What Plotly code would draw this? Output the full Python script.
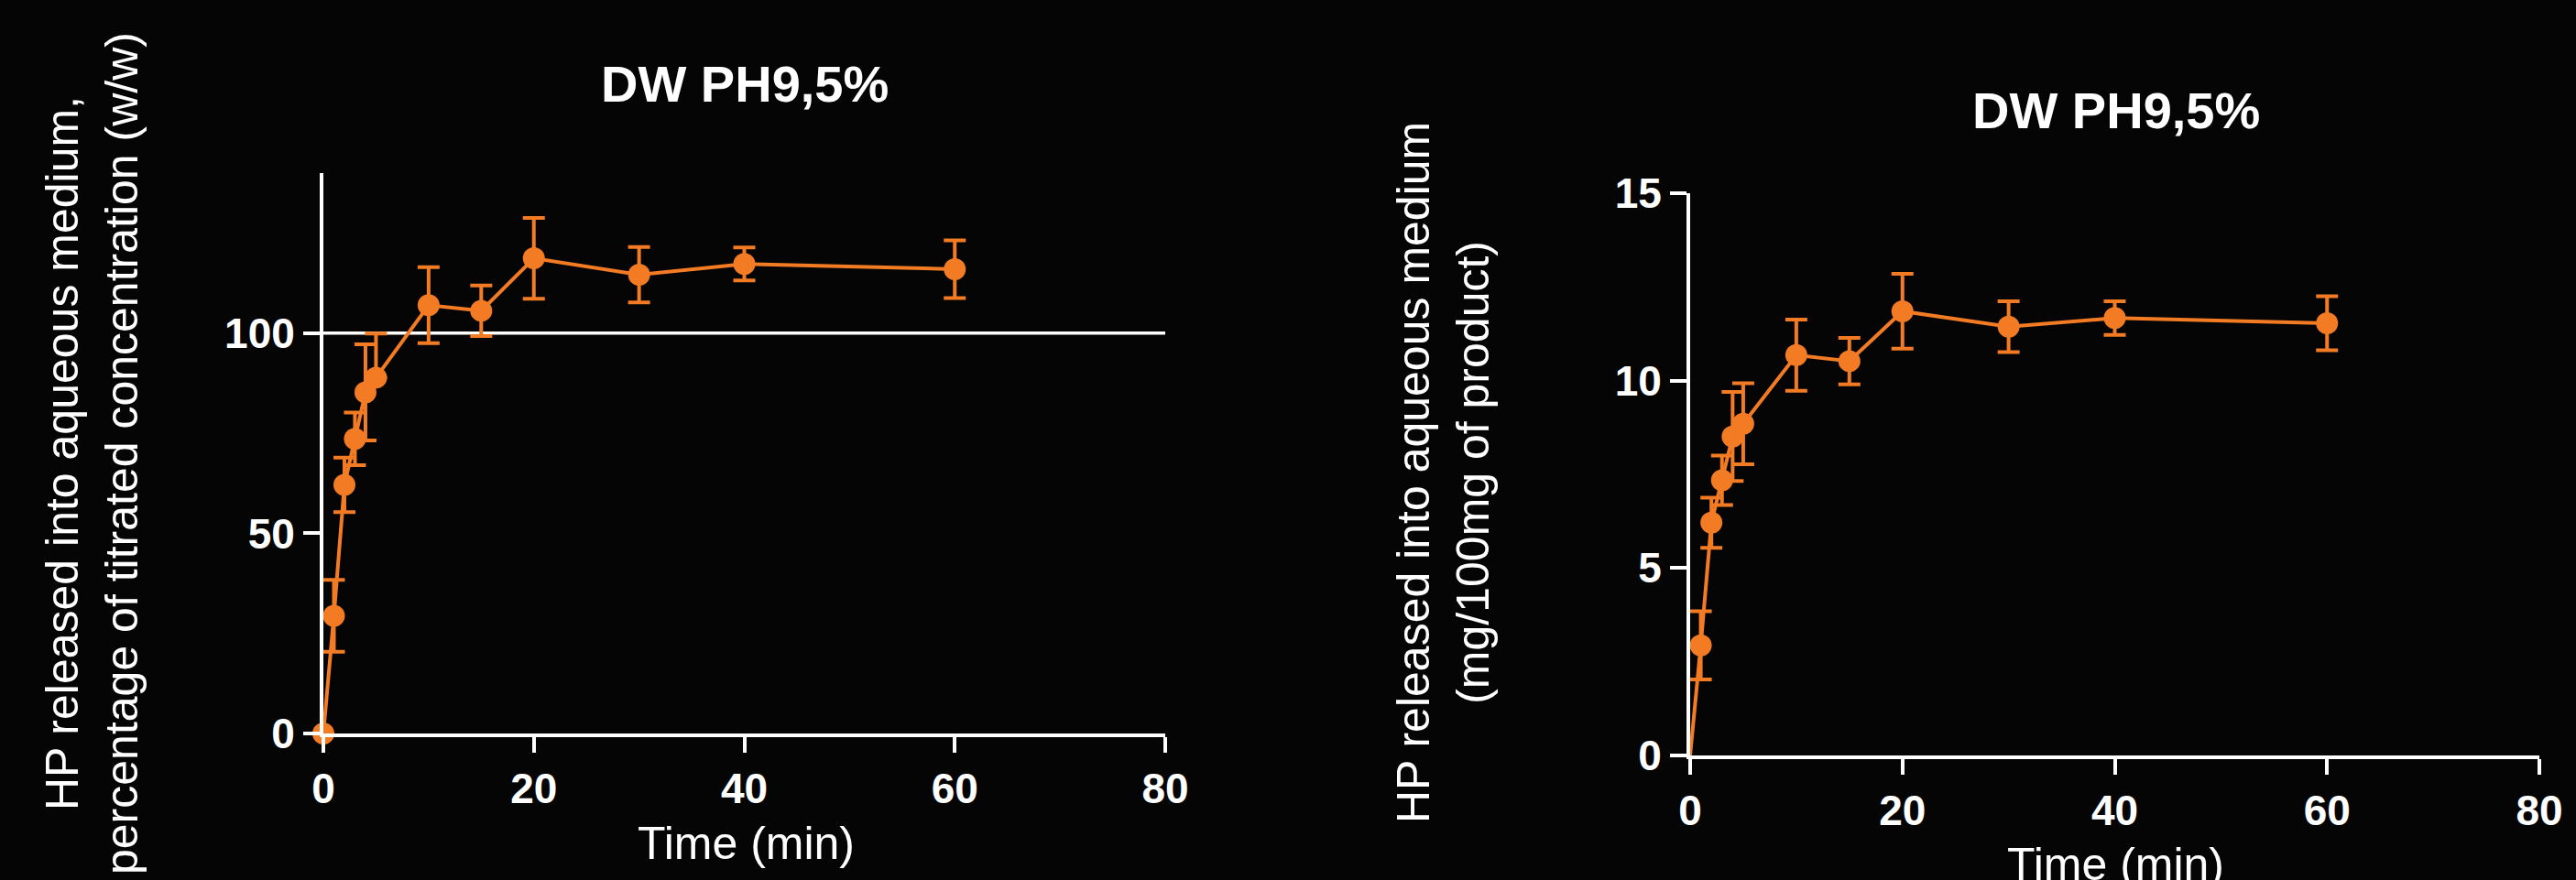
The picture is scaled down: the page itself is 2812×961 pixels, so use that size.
import plotly.graph_objects as go

# Sampling times (min)
time_min = [0, 1, 2, 3, 4, 5, 10, 15, 20, 30, 40, 60]

# Release as percentage of titrated concentration (w/w)
pct_mean = [0, 29.4, 62.1, 73.6, 85.2, 88.9, 107.0, 105.6, 118.7, 114.6, 117.3, 116.0]
pct_err_plus = [0, 9.0, 6.8, 6.6, 12.0, 11.0, 9.5, 6.3, 10.1, 6.9, 4.1, 7.2]
pct_err_minus = [0, 9.0, 6.8, 6.6, 12.0, 0, 9.5, 6.3, 10.1, 6.9, 4.1, 7.2]

# Release in mg per 100 mg of product
mg_mean = [0, 2.94, 6.21, 7.34, 8.51, 8.85, 10.68, 10.52, 11.85, 11.44, 11.67, 11.53]
mg_err = [0, 0.91, 0.67, 0.66, 1.19, 1.08, 0.95, 0.62, 1.00, 0.68, 0.45, 0.72]

x_ticks = [0, 20, 40, 60, 80]
pct_ticks = [0, 50, 100]
mg_ticks = [0, 5, 10, 15]

title_text = "DW PH9,5%"
x_title = "Time (min)"
pct_y_title = "HP released into aqueous medium,<br>percentage of titrated concentration (w/w)"
mg_y_title = "HP released into aqueous medium<br>(mg/100mg of product)"

ORANGE = "#F27B24"
WHITE = "#FFFFFF"
BG = "#050505"
FONT = "Arial, 'Liberation Sans', sans-serif"
W, H = 2812, 961

fig = go.Figure()

# Left panel: percentage of titrated concentration
fig.add_trace(go.Scatter(
    x=time_min, y=pct_mean, mode="lines+markers",
    line=dict(color=ORANGE, width=4),
    marker=dict(color=ORANGE, size=24),
    error_y=dict(type="data", array=pct_err_plus, arrayminus=pct_err_minus,
                 symmetric=False, color=ORANGE, thickness=4, width=12),
    cliponaxis=False, xaxis="x", yaxis="y", showlegend=False,
))

# Right panel: mg per 100 mg; the origin is only the start of the line
fig.add_trace(go.Scatter(
    x=time_min, y=mg_mean, mode="lines",
    line=dict(color=ORANGE, width=4),
    xaxis="x2", yaxis="y2", showlegend=False,
))
fig.add_trace(go.Scatter(
    x=time_min[1:], y=mg_mean[1:], mode="markers",
    marker=dict(color=ORANGE, size=24),
    error_y=dict(type="data", array=mg_err[1:], color=ORANGE, thickness=4, width=12),
    cliponaxis=False, xaxis="x2", yaxis="y2", showlegend=False,
))

# Reference line at 100 % of titrated concentration
fig.add_shape(type="line", xref="x", yref="y", x0=0, x1=80, y0=100, y1=100,
              line=dict(color=WHITE, width=3.5), layer="below")

tick_font = dict(family=FONT, size=46, color=WHITE, weight="bold")
axis_common = dict(showline=True, linecolor=WHITE, linewidth=4, ticks="outside",
                   tickcolor=WHITE, tickwidth=4, showgrid=False, zeroline=False,
                   tickfont=tick_font)


def px_x(p):
    return p / W


def px_y(p):
    return (H - p) / H


fig.update_layout(
    width=W, height=H,
    margin=dict(l=0, r=0, t=0, b=0, autoexpand=False),
    paper_bgcolor=BG, plot_bgcolor=BG,
    xaxis=dict(domain=[px_x(353), px_x(1272)], range=[0, 80], tickvals=x_ticks,
               ticklen=17, anchor="y", **axis_common),
    yaxis=dict(domain=[px_y(801), px_y(189)], range=[0, 140], tickvals=pct_ticks,
               ticklen=18, anchor="x", **axis_common),
    xaxis2=dict(domain=[px_x(1845), px_x(2772)], range=[0, 80], tickvals=x_ticks,
                ticklen=17, anchor="y2", **axis_common),
    yaxis2=dict(domain=[px_y(825), px_y(211)], range=[0, 15], tickvals=mg_ticks,
                ticklen=18, anchor="x2", **axis_common),
)

title_font = dict(family=FONT, size=56, color=WHITE, weight="bold")
label_font = dict(family=FONT, size=50, color=WHITE)

annotations = [
    dict(text=title_text, x=px_x(813), y=px_y(92), font=title_font),
    dict(text=title_text, x=px_x(2310), y=px_y(120), font=title_font),
    dict(text=x_title, x=px_x(814), y=px_y(921), font=label_font),
    dict(text=x_title, x=px_x(2309), y=px_y(944), font=label_font),
    dict(text=pct_y_title, x=px_x(100), y=px_y(495), font=label_font, textangle=-90),
    dict(text=mg_y_title, x=px_x(1575), y=px_y(516), font=label_font, textangle=-90),
]
for a in annotations:
    fig.add_annotation(xref="paper", yref="paper", xanchor="center", yanchor="middle",
                       showarrow=False, **a)

fig.write_html("out.html")
